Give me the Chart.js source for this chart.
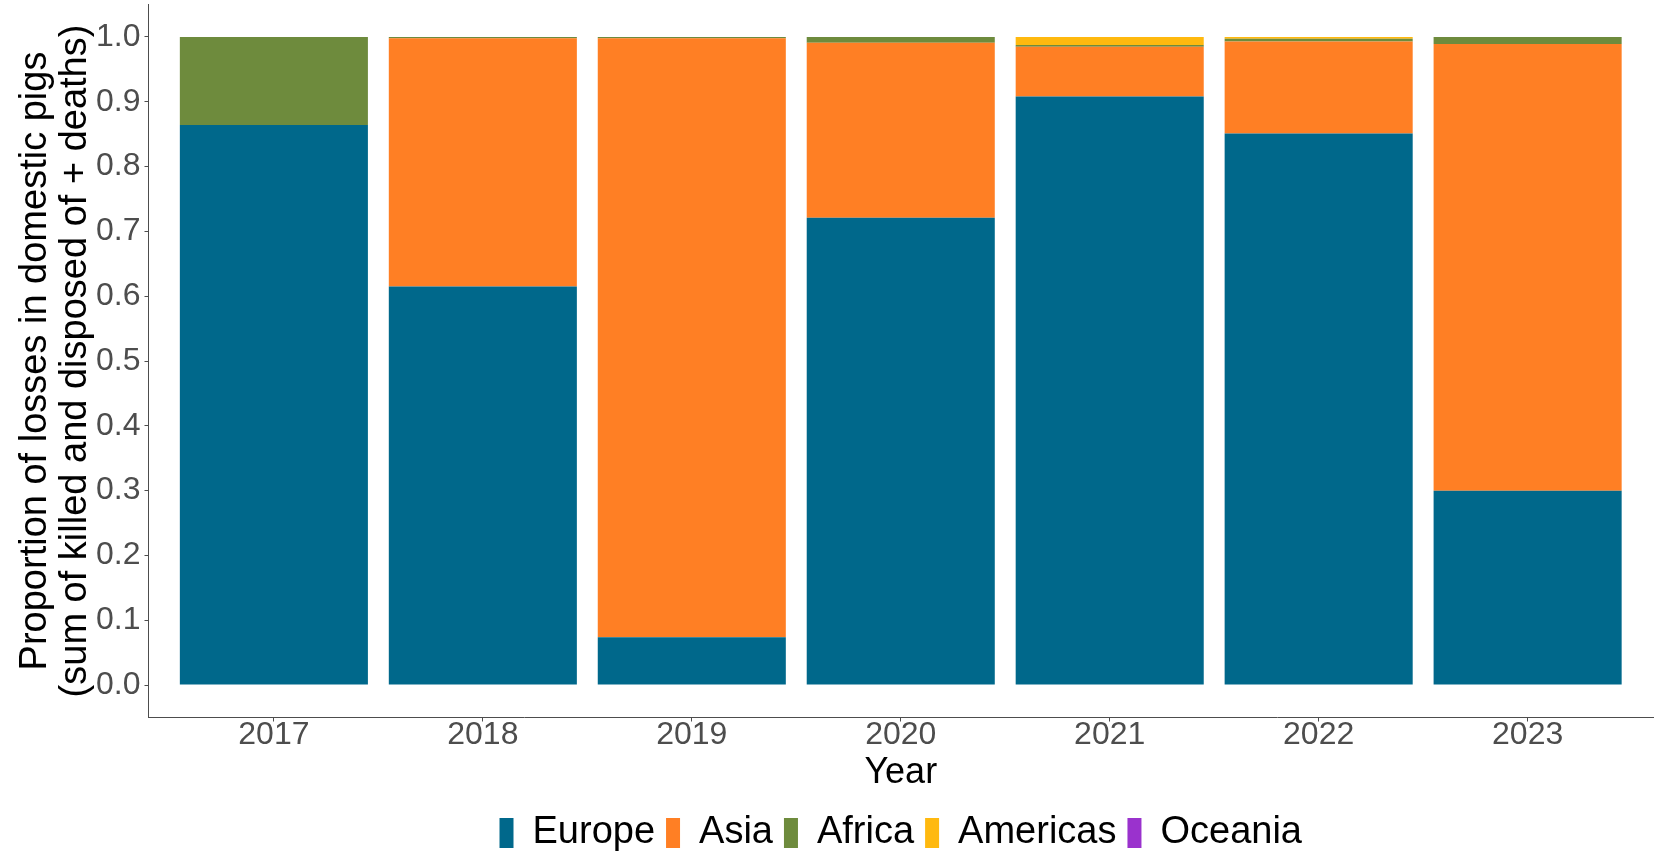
<!DOCTYPE html>
<html>
<head>
<meta charset="utf-8">
<script src="https://cdn.jsdelivr.net/npm/chart.js@4/dist/chart.umd.min.js"></script>
<style>
  html, body { margin: 0; padding: 0; background: #fff; }
  #wrap { width: 1654px; height: 856px; }
</style>
</head>
<body>
<div id="wrap"><canvas id="lossChart" width="1654" height="856"></canvas></div>
<script>
// values (share of losses per year)
const years = ['2017', '2018', '2019', '2020', '2021', '2022', '2023'];
const europe   = [0.864, 0.615, 0.074, 0.721, 0.908, 0.851, 0.300];
const asia     = [0.000, 0.383, 0.924, 0.270, 0.077, 0.142, 0.689];
const africa   = [0.136, 0.002, 0.002, 0.009, 0.0025, 0.004, 0.011];
const americas = [0.000, 0.000, 0.000, 0.000, 0.0125, 0.003, 0.000];
const oceania  = [0, 0, 0, 0, 0, 0, 0];
const yTicks = [0, 0.1, 0.2, 0.3, 0.4, 0.5, 0.6, 0.7, 0.8, 0.9, 1.0];

const FONT = "'Liberation Sans', Arial, sans-serif";

// positions 1..7 on a linear axis so the outer gaps match ggplot's expansion
const toPoints = arr => arr.map((v, i) => ({ x: i + 1, y: v }));

function series(label, values, color) {
    return {
        label: label,
        data: toPoints(values),
        backgroundColor: color,
        borderWidth: 0,
        categoryPercentage: 1.0,
        barPercentage: 0.9
    };
}

// nudge the legend a bit lower than Chart.js puts it
const legendShift = {
    id: 'legendShift',
    afterLayout(chart) {
        if (chart.legend) {
            chart.legend.top += 6;
            chart.legend.bottom += 6;
        }
    }
};

const ctx = document.getElementById('lossChart').getContext('2d');

new Chart(ctx, {
    type: 'bar',
    data: {
        datasets: [
            series('Europe', europe, '#00688B'),
            series('Asia', asia, '#FF7F24'),
            series('Africa', africa, '#6E8B3D'),
            series('Americas', americas, '#FFB90F'),
            series('Oceania', oceania, '#9A32CD')
        ]
    },
    plugins: [legendShift],
    options: {
        responsive: false,
        animation: false,
        layout: { padding: { top: 4.5, right: 1, left: 0, bottom: 0 } },
        plugins: {
            tooltip: { enabled: false },
            legend: {
                position: 'bottom',
                fullSize: false,
                labels: {
                    font: { family: FONT, size: 38 },
                    color: '#000',
                    boxWidth: 14,
                    boxHeight: 30,
                    padding: 11
                }
            }
        },
        scales: {
            x: {
                type: 'linear',
                stacked: true,
                offset: false,
                min: 0.4,
                max: 7.6,
                afterBuildTicks: axis => {
                    axis.ticks = years.map((_, i) => ({ value: i + 1 }));
                },
                afterFit: axis => {
                    axis.height = 79.5;
                    axis.paddingLeft = 0;
                    axis.paddingRight = 0;
                },
                ticks: {
                    font: { family: FONT, size: 32, lineHeight: 1.0 },
                    color: '#4D4D4D',
                    padding: -2,
                    autoSkip: false,
                    maxRotation: 0,
                    callback: v => years[Math.round(v) - 1]
                },
                grid: { offset: false, drawOnChartArea: false, drawTicks: true, tickLength: 4, color: '#4D4D4D' },
                border: { display: true, color: '#4D4D4D', width: 1 },
                title: {
                    display: true,
                    text: 'Year',
                    font: { family: FONT, size: 36 },
                    color: '#000',
                    padding: { top: 0, bottom: 2 }
                }
            },
            y: {
                stacked: true,
                min: -0.05,
                max: 1.05,
                afterBuildTicks: axis => {
                    axis.ticks = yTicks.map(v => ({ value: v }));
                },
                afterFit: axis => {
                    axis.width = 148.5;
                    axis.paddingTop = 0;
                    axis.paddingBottom = 0;
                },
                ticks: {
                    font: { family: FONT, size: 32 },
                    color: '#4D4D4D',
                    padding: 4,
                    callback: v => Number(v).toFixed(1)
                },
                grid: { drawOnChartArea: false, drawTicks: true, tickLength: 4, color: '#4D4D4D' },
                border: { display: true, color: '#4D4D4D', width: 1 },
                title: {
                    display: true,
                    text: ['Proportion of losses in domestic pigs', '(sum of killed and disposed of + deaths)'],
                    font: { family: FONT, size: 38, lineHeight: 1.05 },
                    color: '#000',
                    padding: { top: 16, bottom: 0 }
                }
            }
        }
    }
});
</script>
</body>
</html>
